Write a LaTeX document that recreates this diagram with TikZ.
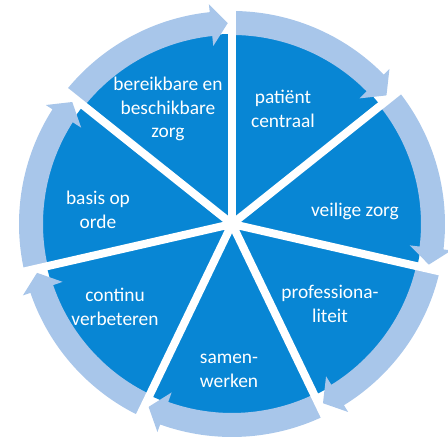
\documentclass[tikz,border=0pt]{standalone}
\usepackage{fontspec}
\setmainfont{Carlito}
\begin{document}
\begin{tikzpicture}[x=1pt, y=1pt,
    txt/.style={text=white, align=center, font=\fontsize{19.4}{23.5}\selectfont},
    gap/.style={white, line width=8pt}]
	\definecolor{darkblue}{RGB}{8,134,212}
	\definecolor{ringblue}{RGB}{168,198,234}
    \useasboundingbox (-232,-222) rectangle (216,224);

    % Draw disc
    \coordinate (c) at (0,0);
    \fill[darkblue] (c) circle (190);

    % Draw ring arrows (clockwise)
    \foreach \a in {90, 38.57, -12.86, -64.29, -115.71, -167.14, 141.43} {
        \pgfmathsetmacro{\t}{\a-51.43+1.2}
        \pgfmathsetmacro{\h}{\a-51.43+6}
        \fill[ringblue] (\a:189) arc[start angle=\a, end angle=\h, radius=189]
            -- (\h:179) -- (\t:201) -- (\h:221) -- (\h:213)
            arc[start angle=\h, end angle=\a, radius=213] -- cycle;
    }

    % Draw separators
    \draw[gap] (c) -- (90:232);
    \draw[gap] (c) -- (38.57:232);
    \draw[gap] (c) -- (-12.86:232);
    \draw[gap] (c) -- (-64.29:232);
    \draw[gap] (c) -- (-115.71:232);
    \draw[gap] (c) -- (-167.14:232);
    \draw[gap] (c) -- (141.43:232);
    \fill[white] (c) circle (6);

    % Draw labels
    \node[txt] (zorg) at (-64,115) {bereikbare en\\beschikbare\\zorg};
    \node[txt] (patient) at (51,115) {patiënt\\centraal};
    \node[txt] (veilig) at (123,13) {veilige zorg};
    \node[txt] (prof) at (98,-80) {professiona-\\liteit};
    \node[txt] (samen) at (-3,-147) {samen-\\werken};
    \node[txt] (continu) at (-117,-83) {continu\\verbeteren};
    \node[txt] (basis) at (-134,14) {basis op\\orde};
\end{tikzpicture}
\end{document}
